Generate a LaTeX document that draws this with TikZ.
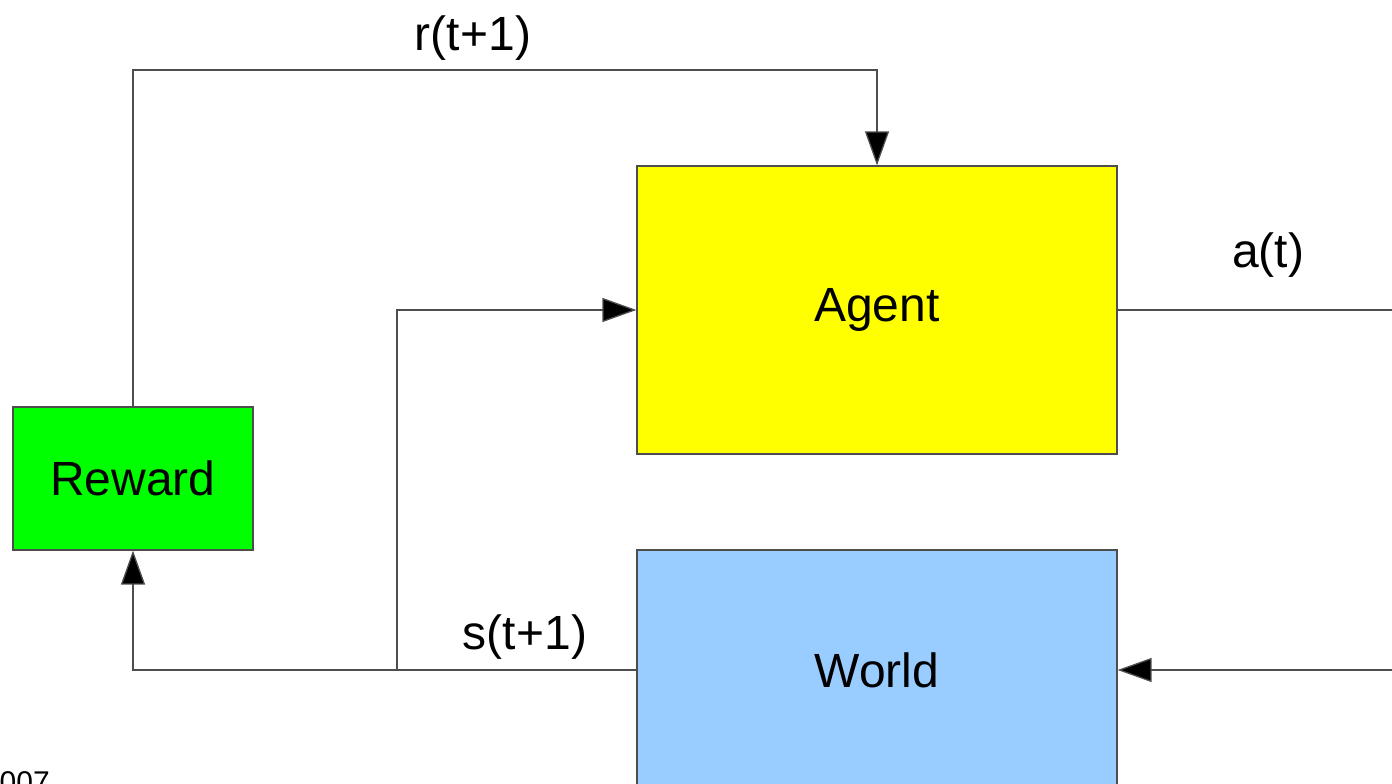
\documentclass[tikz,border=0pt]{standalone}
\usepackage{fontspec}
\setmainfont{Liberation Sans}
\usetikzlibrary{arrows.meta}
\definecolor{lineg}{HTML}{4D4D4D}
\definecolor{agentyellow}{HTML}{FFFF00}
\definecolor{rewardgreen}{HTML}{00FF00}
\definecolor{worldblue}{HTML}{99CCFF}
\begin{document}
\begin{tikzpicture}[x=1pt,y=-1pt,
  block/.style={draw=lineg, line width=1.2pt, rectangle, inner sep=0pt,
    font=\fontsize{48}{52}\selectfont},
  wire/.style={draw=lineg, line width=1.3pt},
  flow/.style={wire, -{Triangle[length=34pt,width=24pt,fill=black]}},
  lbl/.style={font=\fontsize{48}{52}\selectfont, inner sep=0pt}]
  \useasboundingbox (0,0) rectangle (1392,784);
  \clip (0,0) rectangle (1392,784);

  % blocks
  \node[block, fill=rewardgreen, minimum width=240pt, minimum height=143pt] (reward) at (133,478.5) {Reward};
  \node[block, fill=agentyellow, minimum width=480pt, minimum height=288pt] (agent) at (877,310) {Agent};
  \node[block, fill=worldblue, minimum width=480pt, minimum height=240pt] (world) at (877,670) {World};

  % free ends at the right border
  \coordinate (aout) at (1392,310);
  \coordinate (ain) at (1392,670);
  \coordinate (split) at (397,670);

  % reward signal to the agent
  \draw[flow] (reward.north) |- (133,70) -| (agent.north);
  % action leaving the agent / entering the world
  \draw[wire] (agent.east) -- (aout);
  \draw[flow] (ain) -- (world.east);
  % next state to reward and to the agent
  \draw[flow] (world.west) -| (reward.south);
  \draw[flow] (split) |- (agent.west);

  % labels
  \node[lbl] (rlbl) at (473,38) {r(t+1)};
  \node[lbl] (albl) at (1268,255) {a(t)};
  \node[lbl] (slbl) at (525,637) {s(t+1)};
  \node[font=\fontsize{30}{34}\selectfont, inner sep=0pt, anchor=north east] (year) at (50,771) {007};
\end{tikzpicture}
\end{document}
